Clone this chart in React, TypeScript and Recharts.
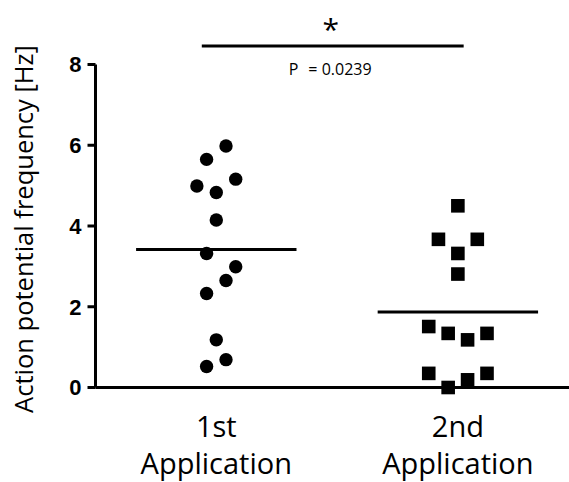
import React from 'react';
import { ScatterChart, Scatter, XAxis, YAxis, ReferenceLine } from 'recharts';

// Categories and tick labels
const categoryLines: string[][] = [
  ['1st', 'Application'],
  ['2nd', 'Application'],
];
const categoryPositions = [1, 2];
const yTicks = [0, 2, 4, 6, 8];
const yLabel = 'Action potential frequency [Hz]';

// Series values
const firstValues = [5.98, 5.65, 4.99, 5.16, 4.83, 4.15, 3.32, 2.99, 2.65, 2.33, 1.18, 0.69, 0.52];
const firstSlots = [1, -1, -2, 2, 0, 0, -1, 2, 1, -1, 0, 1, -1];
const secondValues = [4.5, 3.67, 3.67, 3.32, 2.81, 1.51, 1.34, 1.34, 1.18, 0.35, 0.35, 0.19, 0.0];
const secondSlots = [0, -2, 2, 0, 0, -3, -1, 3, 1, -3, 3, 1, -1];
const means = [3.42, 1.87];

// Significance annotation
const significanceMark = '*';
const pLabel = 'P';
const pValue = '= 0.0239';
const significanceLevel = 8.46;
const significanceFrom = 0.94;
const significanceTo = 2.024;

const SLOT = 0.0402;
const MEAN_HALF = 0.332;

const firstData = firstValues.map((y, i) => ({ x: categoryPositions[0] + firstSlots[i] * SLOT, y }));
const secondData = secondValues.map((y, i) => ({ x: categoryPositions[1] + secondSlots[i] * SLOT, y }));

const labelFont = '"Open Sans", "Noto Sans", sans-serif';

const XTick = (props: any) => {
  const { x, y, payload } = props;
  const idx = categoryPositions.indexOf(Math.round(payload.value));
  const lines = categoryLines[idx] || ['', ''];
  return (
    <g>
      <text x={x} y={y + 49} textAnchor="middle" fontFamily={labelFont} fontSize={29} fill="#000">
        {lines[0]}
      </text>
      <text x={x} y={y + 86.5} textAnchor="middle" fontFamily={labelFont} fontSize={29} fill="#000">
        {lines[1]}
      </text>
    </g>
  );
};

const YLabel = (props: any) => {
  const vb = props.viewBox || { x: 0, y: 0, width: 0, height: 0 };
  const cx = vb.x + 33;
  const cy = vb.y + vb.height / 2 + 3;
  return (
    <text
      x={cx}
      y={cy}
      textAnchor="middle"
      transform={`rotate(-90, ${cx}, ${cy})`}
      fontFamily={labelFont}
      fontSize={25.5}
      fill="#000"
    >
      {yLabel}
    </text>
  );
};

const SigLabel = (props: any) => {
  const vb = props.viewBox || { x: 0, y: 0, width: 0 };
  const cx = vb.x + (vb.width || 0) / 2 - 2;
  const cy = vb.y;
  return (
    <g>
      <text x={cx} y={cy - 6} textAnchor="middle" fontFamily={labelFont} fontSize={30} fill="#000">
        {significanceMark}
      </text>
      <text x={cx - 42} y={cy + 29.5} textAnchor="start" fontFamily={labelFont} fontSize={16} fill="#000">
        <tspan>{pLabel}</tspan>
        <tspan dx={10}>{pValue}</tspan>
      </text>
    </g>
  );
};

const Dot = (props: any) => <circle cx={props.cx} cy={props.cy} r={6.7} fill="#000" />;
const Sq = (props: any) => (
  <rect x={props.cx - 6.8} y={props.cy - 6.8} width={13.6} height={13.6} fill="#000" />
);

export default function App() {
  return (
    <div style={{ position: 'absolute', left: 0, top: 0, background: '#fff' }}>
      <ScatterChart width={569} height={482} margin={{ top: 64.5, right: 0, bottom: 0, left: 0 }}>
        <XAxis
          type="number"
          dataKey="x"
          domain={[0.5, 2.46]}
          ticks={categoryPositions}
          interval={0}
          axisLine={{ stroke: '#000', strokeWidth: 3 }}
          tickLine={false}
          tickSize={0}
          tickMargin={0}
          height={94.5}
          tick={<XTick />}
        />
        <YAxis
          type="number"
          dataKey="y"
          domain={[0, 8]}
          ticks={yTicks}
          interval={0}
          width={95.5}
          axisLine={{ stroke: '#000', strokeWidth: 3 }}
          tickLine={{ stroke: '#000', strokeWidth: 3 }}
          tickSize={8}
          tickMargin={6}
          tick={{ fill: '#000', fontSize: 22, fontWeight: 'bold', fontFamily: '"Liberation Sans", Arial, sans-serif' }}
          label={<YLabel />}
        />
        <Scatter data={firstData} shape={<Dot />} isAnimationActive={false} />
        <Scatter data={secondData} shape={<Sq />} isAnimationActive={false} />
        {means.map((m, i) => (
          <ReferenceLine
            key={i}
            segment={[
              { x: categoryPositions[i] - MEAN_HALF, y: m },
              { x: categoryPositions[i] + MEAN_HALF, y: m },
            ]}
            stroke="#000"
            strokeWidth={3}
          />
        ))}
        <ReferenceLine
          segment={[
            { x: significanceFrom, y: significanceLevel },
            { x: significanceTo, y: significanceLevel },
          ]}
          ifOverflow="visible"
          stroke="#000"
          strokeWidth={3}
          label={<SigLabel />}
        />
      </ScatterChart>
    </div>
  );
}
